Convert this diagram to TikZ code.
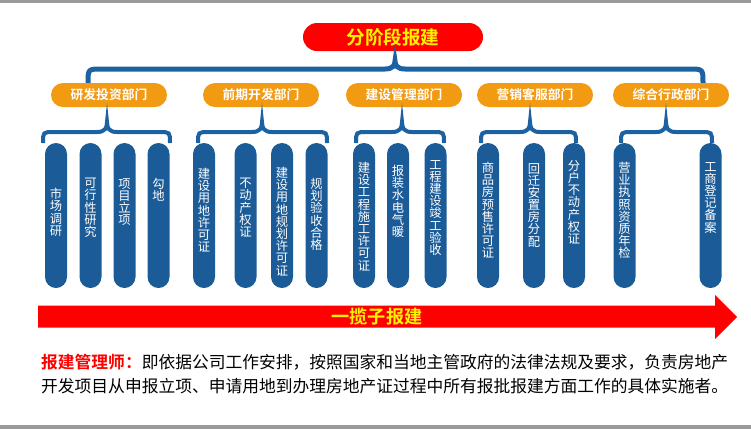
\documentclass[tikz,border=0pt]{standalone}
\usepackage{fontspec}
\setmainfont{Noto Sans CJK SC}[BoldFont={Noto Sans CJK SC Bold}]
\definecolor{deptblue}{HTML}{1A5B98}
\definecolor{braceblue}{HTML}{1C62A2}
\definecolor{deptorange}{HTML}{F39A13}
\definecolor{stagered}{HTML}{FF0000}
\definecolor{labelyellow}{HTML}{FFF200}
\definecolor{framegray}{HTML}{9A9A9A}

% curly brace: left x, apex x, right x, apex y, bar y, end y
\newcommand{\groupbrace}[7][]{%
  \draw[brace,#1] (#2,#7) .. controls (#2,#6) .. (#2+#7-#6,#6)
    -- (#3-10,#6) .. controls (#3-2,#6) and (#3,#6-4) .. (#3,#5)
    .. controls (#3,#6-4) and (#3+2,#6) .. (#3+10,#6)
    -- (#4-#7+#6,#6) .. controls (#4,#6) .. (#4,#7);}

\begin{document}
\begin{tikzpicture}[
    x=0.3mm, y=-0.3mm,
    brace/.style={draw=braceblue, line width=1.2mm},
    stage/.style={fill=stagered, rounded corners=4.2mm, minimum width=54mm,
      minimum height=8.4mm, inner sep=0pt, text=labelyellow,
      font=\bfseries\fontsize{15.9}{18}\selectfont},
    dept/.style={fill=deptorange, rounded corners=3.6mm, minimum width=34.8mm,
      minimum height=7.2mm, inner sep=0pt, text=white,
      font=\bfseries\fontsize{10.9}{12}\selectfont},
    pill/.style={fill=deptblue, rounded corners=3.3mm, minimum width=6.6mm,
      minimum height=43.5mm, inner sep=0pt},
    pilltext/.style={text=white, align=center, inner sep=0pt, anchor=north,
      font=\fontsize{10.5}{10.4}\selectfont},
    deftext/.style={inner sep=0pt, anchor=base west,
      font=\fontsize{14.3}{20}\selectfont}
]
    \useasboundingbox (0,0) rectangle (751,429);
    % Frame bars
    \fill[framegray] (0,0) rectangle (751,3);
    \fill[framegray] (0,425) rectangle (751,429);
    % Top stage
    \node[stage] (stage) at (393,37) {分阶段报建};
    \groupbrace[line width=1.5mm]{88}{395}{703}{61}{69}{83}
    % Departments
    \node[dept] (d1) at (109,95) {研发投资部门};
    \node[dept] (d2) at (261,95) {前期开发部门};
    \node[dept] (d3) at (404,95) {建设管理部门};
    \node[dept] (d4) at (535,95) {营销客服部门};
    \node[dept] (d5) at (671,95) {综合行政部门};
    % Group braces
    \groupbrace{43}{107}{170}{122}{132}{143}
    \groupbrace{198}{262}{327}{122}{132}{143}
    \groupbrace{356}{402}{444}{122}{132}{143}
    \groupbrace{481}{530}{576}{122}{132}{143}
    \groupbrace{621}{666}{712}{122}{132}{143}
    % Tasks
    \foreach \px/\ty/\txt [count=\i] in {
        56/188/{市\\场\\调\\研},
        90.5/178/{可\\行\\性\\研\\究},
        124.5/178/{项\\目\\立\\项},
        158.5/178/{勾\\地},
        204/168/{建\\设\\用\\地\\许\\可\\证},
        245.5/178/{不\\动\\产\\权\\证},
        282/167/{建\\设\\用\\地\\规\\划\\许\\可\\证},
        316.5/178/{规\\划\\验\\收\\合\\格},
        364/162/{建\\设\\工\\程\\施\\工\\许\\可\\证},
        398/165/{报\\装\\水\\电\\气\\暖},
        435.5/160/{工\\程\\建\\设\\竣\\工\\验\\收},
        488/162/{商\\品\\房\\预\\售\\许\\可\\证},
        534/163/{回\\迁\\安\\置\\房\\分\\配},
        574/160/{分\\户\\不\\动\\产\\权\\证},
        624.5/162/{营\\业\\执\\照\\资\\质\\年\\检},
        710.5/162/{工\\商\\登\\记\\备\\案}} {
      \node[pill] (p\i) at (\px,215.5) {};
      \node[pilltext] (t\i) at (\px,\ty) {\txt};
    }
    % Bottom arrow
    \fill[stagered] (38,305.5) -- (715,305.5) -- (715,295) -- (737,317)
      -- (715,339) -- (715,327.5) -- (38,327.5) -- cycle;
    \node[text=labelyellow, font=\bfseries\fontsize{15.5}{18}\selectfont,
      inner sep=0pt] (slogan) at (377,316.5) {一揽子报建};
    % Definition
    \node[deftext] (def1) at (41,368) {\textcolor{stagered}{\bfseries 报建管理师：}即依据公司工作安排，按照国家和当地主管政府的法律法规及要求，负责房地产};
    \node[deftext] (def2) at (41,392) {开发项目从申报立项、申请用地到办理房地产证过程中所有报批报建方面工作的具体实施者。};
\end{tikzpicture}
\end{document}
